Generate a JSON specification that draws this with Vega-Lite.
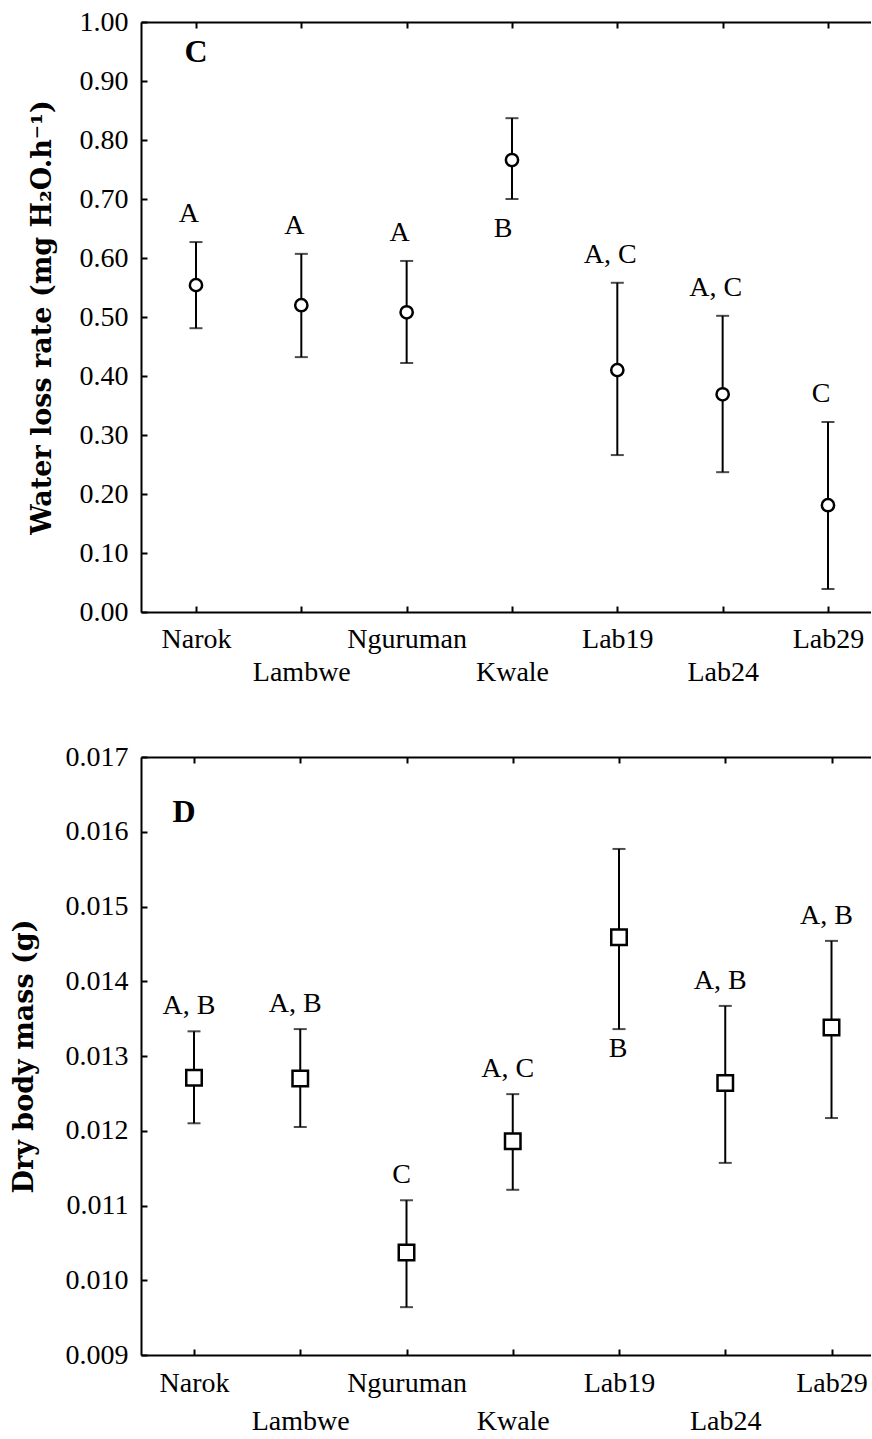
{
  "$schema": "https://vega.github.io/schema/vega-lite/v6.json",
  "background": "white",
  "padding": {"left": 10, "top": 8, "right": 0, "bottom": 0},
  "spacing": 57,
  "config": {
    "view": {"stroke": null},
    "font": "Liberation Serif",
    "axis": {
      "domainColor": "black",
      "domainWidth": 2,
      "tickColor": "black",
      "tickWidth": 2,
      "tickSize": -6,
      "labelColor": "black",
      "labelFont": "Liberation Serif",
      "labelFontSize": 28,
      "titleColor": "black",
      "titleFont": "DejaVu Serif",
      "titleFontWeight": "bold",
      "titleFontSize": 27,
      "grid": false
    }
  },
  "vconcat": [
    {
      "width": 730,
      "height": 590,
      "data": {"values": [
        {"site": "Narok", "mean": 0.554, "lo": 0.481, "hi": 0.627, "letters": "A"},
        {"site": "Lambwe", "mean": 0.520, "lo": 0.432, "hi": 0.607, "letters": "A"},
        {"site": "Nguruman", "mean": 0.508, "lo": 0.422, "hi": 0.595, "letters": "A"},
        {"site": "Kwale", "mean": 0.766, "lo": 0.700, "hi": 0.837, "letters": "B"},
        {"site": "Lab19", "mean": 0.410, "lo": 0.266, "hi": 0.558, "letters": "A, C"},
        {"site": "Lab24", "mean": 0.369, "lo": 0.237, "hi": 0.502, "letters": "A, C"},
        {"site": "Lab29", "mean": 0.181, "lo": 0.039, "hi": 0.322, "letters": "C"}
      ]},
      "resolve": {"axis": {"x": "independent"}},
      "layer": [
        {
          "mark": {"type": "rule", "color": "black", "strokeWidth": 2},
          "encoding": {
            "x": {"field": "site", "type": "nominal", "sort": null,
              "scale": {"type": "point", "domain": ["Narok", "Lambwe", "Nguruman", "Kwale", "Lab19", "Lab24", "Lab29"], "padding": 0.4652, "align": 0.561},
              "axis": {"orient": "bottom", "title": null, "labelAngle": 0, "labelOverlap": false,
                "labelBaseline": "top",
                "labelPadding": {"condition": {"test": "indexof(['Lambwe','Kwale','Lab24'], datum.value) >= 0", "value": 52}, "value": 19}}},
            "y": {"field": "lo", "type": "quantitative",
              "scale": {"domain": [0, 1], "nice": false, "zero": false},
              "axis": {"title": "Water loss rate (mg H₂O.h⁻¹)", "values": [0, 0.1, 0.2, 0.3, 0.4, 0.5, 0.6, 0.7, 0.8, 0.9, 1.0],
                "format": ".2f", "labelPadding": 19, "titlePadding": 23}},
            "y2": {"field": "hi"}
          }
        },
        {
          "mark": {"type": "tick", "color": "black", "thickness": 2, "size": 13},
          "encoding": {
            "x": {"field": "site", "type": "nominal", "sort": null, "axis": null},
            "y": {"field": "lo", "type": "quantitative"}
          }
        },
        {
          "mark": {"type": "tick", "color": "black", "thickness": 2, "size": 13},
          "encoding": {
            "x": {"field": "site", "type": "nominal", "sort": null, "axis": null},
            "y": {"field": "hi", "type": "quantitative"}
          }
        },
        {
          "mark": {"type": "point", "shape": "circle", "filled": true, "fill": "white", "stroke": "black", "strokeWidth": 2.5, "size": 150, "opacity": 1},
          "encoding": {
            "x": {"field": "site", "type": "nominal", "sort": null,
              "axis": {"orient": "top", "labels": false, "title": null}},
            "y": {"field": "mean", "type": "quantitative"}
          }
        },
        {
          "transform": [{"filter": "datum.site !== 'Kwale'"}],
          "mark": {"type": "text", "font": "Liberation Serif", "fontSize": 28, "color": "black", "baseline": "middle", "dy": -28, "dx": -7},
          "encoding": {
            "x": {"field": "site", "type": "nominal", "sort": null, "axis": null},
            "y": {"field": "hi", "type": "quantitative"},
            "text": {"field": "letters"}
          }
        },
        {
          "transform": [{"filter": "datum.site === 'Kwale'"}],
          "mark": {"type": "text", "font": "Liberation Serif", "fontSize": 28, "color": "black", "baseline": "middle", "dy": 30, "dx": -9},
          "encoding": {
            "x": {"field": "site", "type": "nominal", "sort": null, "axis": null},
            "y": {"field": "lo", "type": "quantitative"},
            "text": {"field": "letters"}
          }
        },
        {
          "data": {"values": [{"site": "Narok", "v": 0.95, "panel": "C"}]},
          "mark": {"type": "text", "font": "Liberation Serif", "fontWeight": "bold", "fontSize": 32, "color": "black", "baseline": "middle", "dx": 0},
          "encoding": {
            "x": {"field": "site", "type": "nominal", "sort": null, "axis": null},
            "y": {"field": "v", "type": "quantitative"},
            "text": {"field": "panel"}
          }
        }
      ]
    },
    {
      "width": 730,
      "height": 598,
      "data": {"values": [
        {"site": "Narok", "mean": 0.01271, "lo": 0.01210, "hi": 0.01333, "letters": "A, B"},
        {"site": "Lambwe", "mean": 0.01270, "lo": 0.01205, "hi": 0.01336, "letters": "A, B"},
        {"site": "Nguruman", "mean": 0.01037, "lo": 0.00964, "hi": 0.01107, "letters": "C"},
        {"site": "Kwale", "mean": 0.01186, "lo": 0.01121, "hi": 0.01249, "letters": "A, C"},
        {"site": "Lab19", "mean": 0.01459, "lo": 0.01336, "hi": 0.01577, "letters": "B"},
        {"site": "Lab24", "mean": 0.01264, "lo": 0.01157, "hi": 0.01367, "letters": "A, B"},
        {"site": "Lab29", "mean": 0.01338, "lo": 0.01217, "hi": 0.01454, "letters": "A, B"}
      ]},
      "resolve": {"axis": {"x": "independent"}},
      "layer": [
        {
          "mark": {"type": "rule", "color": "black", "strokeWidth": 2},
          "encoding": {
            "x": {"field": "site", "type": "nominal", "sort": null,
              "scale": {"type": "point", "domain": ["Narok", "Lambwe", "Nguruman", "Kwale", "Lab19", "Lab24", "Lab29"], "padding": 0.4353, "align": 0.573},
              "axis": {"orient": "bottom", "title": null, "labelAngle": 0, "labelOverlap": false,
                "labelBaseline": "top",
                "labelPadding": {"condition": {"test": "indexof(['Lambwe','Kwale','Lab24'], datum.value) >= 0", "value": 58}, "value": 20}}},
            "y": {"field": "lo", "type": "quantitative",
              "scale": {"domain": [0.009, 0.017], "nice": false, "zero": false},
              "axis": {"title": "Dry body mass (g)", "values": [0.009, 0.010, 0.011, 0.012, 0.013, 0.014, 0.015, 0.016, 0.017],
                "format": ".3f", "labelPadding": 19, "titlePadding": 27}},
            "y2": {"field": "hi"}
          }
        },
        {
          "mark": {"type": "tick", "color": "black", "thickness": 2, "size": 13},
          "encoding": {
            "x": {"field": "site", "type": "nominal", "sort": null, "axis": null},
            "y": {"field": "lo", "type": "quantitative"}
          }
        },
        {
          "mark": {"type": "tick", "color": "black", "thickness": 2, "size": 13},
          "encoding": {
            "x": {"field": "site", "type": "nominal", "sort": null, "axis": null},
            "y": {"field": "hi", "type": "quantitative"}
          }
        },
        {
          "mark": {"type": "point", "shape": "square", "filled": true, "fill": "white", "stroke": "black", "strokeWidth": 2.5, "size": 240, "opacity": 1},
          "encoding": {
            "x": {"field": "site", "type": "nominal", "sort": null,
              "axis": {"orient": "top", "labels": false, "title": null}},
            "y": {"field": "mean", "type": "quantitative"}
          }
        },
        {
          "transform": [{"filter": "datum.site !== 'Lab19'"}],
          "mark": {"type": "text", "font": "Liberation Serif", "fontSize": 28, "color": "black", "baseline": "middle", "dy": -25, "dx": -5},
          "encoding": {
            "x": {"field": "site", "type": "nominal", "sort": null, "axis": null},
            "y": {"field": "hi", "type": "quantitative"},
            "text": {"field": "letters"}
          }
        },
        {
          "transform": [{"filter": "datum.site === 'Lab19'"}],
          "mark": {"type": "text", "font": "Liberation Serif", "fontSize": 28, "color": "black", "baseline": "middle", "dy": 20, "dx": -1},
          "encoding": {
            "x": {"field": "site", "type": "nominal", "sort": null, "axis": null},
            "y": {"field": "lo", "type": "quantitative"},
            "text": {"field": "letters"}
          }
        },
        {
          "data": {"values": [{"site": "Narok", "v": 0.01626, "panel": "D"}]},
          "mark": {"type": "text", "font": "Liberation Serif", "fontWeight": "bold", "fontSize": 32, "color": "black", "baseline": "middle", "dx": -10},
          "encoding": {
            "x": {"field": "site", "type": "nominal", "sort": null, "axis": null},
            "y": {"field": "v", "type": "quantitative"},
            "text": {"field": "panel"}
          }
        }
      ]
    }
  ]
}
